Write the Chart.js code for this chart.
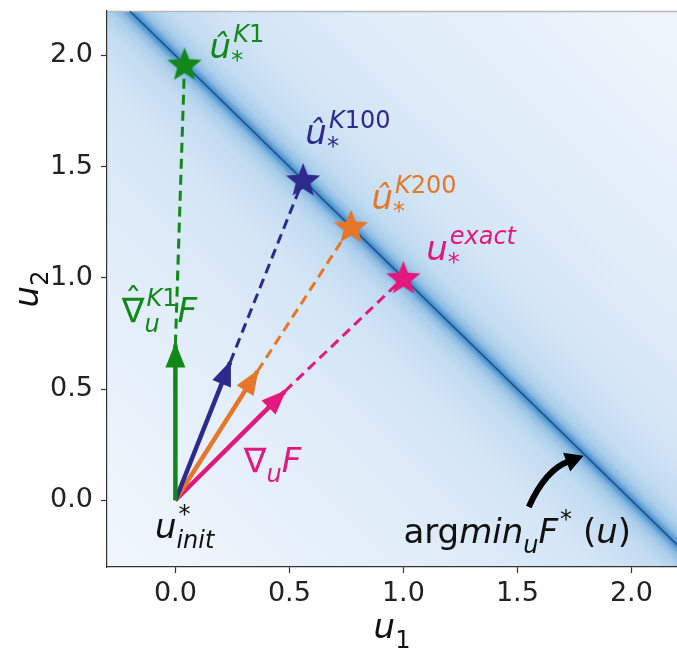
<!DOCTYPE html>
<html>
<head>
<meta charset="utf-8">
<script src="https://cdn.jsdelivr.net/npm/chart.js@4.4.1/dist/chart.umd.min.js"></script>
<style>
  html, body { margin: 0; padding: 0; background: #fff; }
</style>
</head>
<body>
<canvas id="chart" width="677" height="648"></canvas>
<script>
// estimated optima and the gradient arrows that start at u_init
var names = ['K1', 'K100', 'K200', 'exact'];
var starX = [0.04, 0.56, 0.77, 1.0];
var starY = [1.96, 1.44, 1.23, 1.0];
var tipX = [0.0, 0.24, 0.36, 0.48];
var tipY = [0.70, 0.62, 0.58, 0.49];
var colors = ['#12881a', '#2d2a8c', '#e5762a', '#e3187c'];
var initX = [0.0];
var initY = [0.0];

// argmin line u1 + u2 = 2
var minLineX = [-0.2, 2.2];
var minLineY = [2.2, -0.2];

var tickValues = [0, 0.5, 1.0, 1.5, 2.0];
var tickLabels = ['0.0', '0.5', '1.0', '1.5', '2.0'];

var FONT = '"DejaVu Sans"';
var MAIN = 34, SCRIPT = 24;

function starImage(color) {
  var c = document.createElement('canvas');
  c.width = 38; c.height = 38;
  var g = c.getContext('2d');
  g.fillStyle = color;
  g.beginPath();
  for (var i = 0; i < 10; i++) {
    var r = i % 2 === 0 ? 18 : 7.8;
    var a = -Math.PI / 2 + i * Math.PI / 5;
    g.lineTo(19 + r * Math.cos(a), 20 + r * Math.sin(a));
  }
  g.closePath();
  g.fill();
  return c;
}

var datasets = [{
  label: 'argmin',
  data: minLineX.map(function (x, i) { return { x: x, y: minLineY[i] }; }),
  showLine: true, borderColor: '#1b4d88', borderWidth: 1.3, pointRadius: 0, order: 5
}];
names.forEach(function (n, i) {
  datasets.push({
    label: 'dash ' + n,
    data: [{ x: tipX[i], y: tipY[i] }, { x: starX[i], y: starY[i] }],
    showLine: true, borderColor: colors[i], borderWidth: 3, borderDash: [10, 6],
    pointRadius: 0, order: 3
  });
  datasets.push({
    label: 'grad ' + n,
    data: [{ x: initX[0], y: initY[0] }, { x: tipX[i], y: tipY[i] }],
    showLine: true, borderColor: colors[i], borderWidth: 4.5,
    pointRadius: 0, order: 2, arrow: true
  });
  datasets.push({
    label: 'star ' + n,
    data: [{ x: starX[i], y: starY[i] }],
    pointStyle: starImage(colors[i]), pointRadius: 18, order: 0
  });
});

// text labels, anchored in data units
var labels = [
  { x: 0.15, y: 1.99, color: colors[0], parts: [{ t: 'û', it: 1, sup: [['K', 1], ['1', 0]], sub: [['*', 0]] }] },
  { x: 0.57, y: 1.60, color: colors[1], parts: [{ t: 'û', it: 1, sup: [['K', 1], ['100', 0]], sub: [['*', 0]] }] },
  { x: 0.86, y: 1.31, color: colors[2], parts: [{ t: 'û', it: 1, sup: [['K', 1], ['200', 0]], sub: [['*', 0]] }] },
  { x: 1.10, y: 1.08, color: colors[3], parts: [{ t: 'u', it: 1, sup: [['exact', 1]], sub: [['*', 0]] }] },
  { x: -0.235, y: 0.80, color: colors[0], parts: [{ t: '∇', it: 0, hat: 1, sup: [['K', 1], ['1', 0]], sub: [['u', 1]] }, { t: 'F', it: 1 }] },
  { x: 0.30, y: 0.125, color: colors[3], parts: [{ t: '∇', it: 0, sub: [['u', 1]] }, { t: 'F', it: 1 }] },
  { x: -0.09, y: -0.17, color: '#111', parts: [{ t: 'u', it: 1, sup: [['*', 0]], sub: [['init', 1]] }] },
  { x: 1.0, y: -0.19, color: '#111', parts: [{ t: 'arg', it: 0 }, { t: 'min', it: 1, sub: [['u', 1]] }, { t: 'F', it: 1, sup: [['*', 0]] }, { t: ' (', it: 0 }, { t: 'u', it: 1 }, { t: ')', it: 0 }] }
];
var pointerFrom = [1.55, -0.03];
var pointerTo = [1.79, 0.20];

function setFont(ctx, it, size) {
  ctx.font = (it ? 'italic ' : '') + size + 'px ' + FONT;
}

function drawRuns(ctx, runs, x, y, size, dry) {
  runs.forEach(function (r) {
    setFont(ctx, r[1], size);
    if (!dry) ctx.fillText(r[0], x, y);
    x += ctx.measureText(r[0]).width;
  });
  return x;
}

function drawMath(ctx, x, y, color, parts, dry) {
  ctx.fillStyle = color;
  ctx.textBaseline = 'alphabetic';
  ctx.textAlign = 'left';
  parts.forEach(function (p) {
    setFont(ctx, p.it, MAIN);
    var w = ctx.measureText(p.t).width;
    if (!dry) {
      ctx.fillText(p.t, x, y);
      if (p.hat) {
        ctx.textAlign = 'center';
        ctx.fillText('ˆ', x + w / 2, y - 10);
        ctx.textAlign = 'left';
      }
    }
    x += w;
    var end = x;
    if (p.sup) end = Math.max(end, drawRuns(ctx, p.sup, x + 2, y - 16, SCRIPT, dry));
    if (p.sub) end = Math.max(end, drawRuns(ctx, p.sub, x, y + 10, SCRIPT, dry));
    x = end;
  });
  return x;
}

var heatPlugin = {
  id: 'heat',
  beforeDraw: function (chart) {
    var a = chart.chartArea, xs = chart.scales.x, ys = chart.scales.y, ctx = chart.ctx;
    var ax = xs.getPixelForValue(minLineX[0]), ay = ys.getPixelForValue(minLineY[0]);
    var bx = xs.getPixelForValue(minLineX[1]), by = ys.getPixelForValue(minLineY[1]);
    var dx = bx - ax, dy = by - ay, len = Math.hypot(dx, dy);
    var nx = -dy / len, ny = dx / len;
    var cx = (ax + bx) / 2, cy = (ay + by) / 2;
    var R = 500;
    var grad = ctx.createLinearGradient(cx - nx * R, cy - ny * R, cx + nx * R, cy + ny * R);
    var stops = [[0, '#3f86c6'], [3, '#5f9fd4'], [7, '#8dbbe3'], [14, '#accfeb'],
      [28, '#c3dcf1'], [70, '#d4e5f5'], [180, '#e1edf9'], [360, '#eef5fc'], [500, '#f5f9fd']];
    stops.forEach(function (s) {
      grad.addColorStop(0.5 - s[0] / (2 * R), s[1]);
      grad.addColorStop(0.5 + s[0] / (2 * R), s[1]);
    });
    ctx.save();
    ctx.fillStyle = grad;
    ctx.fillRect(a.left, a.top, a.right - a.left, a.bottom - a.top);
    ctx.strokeStyle = '#b8b8b8';
    ctx.lineWidth = 1.5;
    ctx.beginPath();
    ctx.moveTo(a.left, a.top + 0.5);
    ctx.lineTo(a.right, a.top + 0.5);
    ctx.stroke();
    ctx.restore();
  }
};

var overlayPlugin = {
  id: 'overlay',
  afterDatasetsDraw: function (chart) {
    var ctx = chart.ctx, xs = chart.scales.x, ys = chart.scales.y, a = chart.chartArea;
    ctx.save();
    // arrow heads at the end of each gradient arrow
    chart.data.datasets.forEach(function (ds, i) {
      if (!ds.arrow) return;
      var pts = chart.getDatasetMeta(i).data;
      var p0 = pts[0], p1 = pts[1];
      var dx = p1.x - p0.x, dy = p1.y - p0.y, l = Math.hypot(dx, dy);
      var ux = dx / l, uy = dy / l;
      var tx = p1.x + ux * 2, ty = p1.y + uy * 2;
      var hl = 25, hw = 10;
      ctx.fillStyle = ds.borderColor;
      ctx.beginPath();
      ctx.moveTo(tx, ty);
      ctx.lineTo(tx - ux * hl - uy * hw, ty - uy * hl + ux * hw);
      ctx.lineTo(tx - ux * hl + uy * hw, ty - uy * hl - ux * hw);
      ctx.closePath();
      ctx.fill();
    });

    // curved pointer to the argmin line
    var sx = xs.getPixelForValue(pointerFrom[0]), sy = ys.getPixelForValue(pointerFrom[1]);
    var ex = xs.getPixelForValue(pointerTo[0]), ey = ys.getPixelForValue(pointerTo[1]);
    var qx = sx + (ex - sx) * 0.3, qy = sy + (ey - sy) * 0.72;
    var vx = ex - qx, vy = ey - qy, vl = Math.hypot(vx, vy);
    vx /= vl; vy /= vl;
    var hl = 18, hw = 10;
    ctx.strokeStyle = '#000';
    ctx.lineWidth = 6;
    ctx.beginPath();
    ctx.moveTo(sx, sy);
    ctx.quadraticCurveTo(qx, qy, ex - vx * (hl - 2), ey - vy * (hl - 2));
    ctx.stroke();
    ctx.fillStyle = '#000';
    ctx.beginPath();
    ctx.moveTo(ex, ey);
    ctx.lineTo(ex - vx * hl - vy * hw, ey - vy * hl + vx * hw);
    ctx.lineTo(ex - vx * hl + vy * hw, ey - vy * hl - vx * hw);
    ctx.closePath();
    ctx.fill();

    labels.forEach(function (lb) {
      drawMath(ctx, xs.getPixelForValue(lb.x), ys.getPixelForValue(lb.y), lb.color, lb.parts);
    });

    // axis titles
    var t1 = [{ t: 'u', it: 1, sub: [['1', 0]] }];
    var w1 = drawMath(ctx, 0, 0, '#111', t1, true);
    drawMath(ctx, (a.left + a.right) / 2 - w1 / 2, 638, '#111', t1);
    var t2 = [{ t: 'u', it: 1, sub: [['2', 0]] }];
    var w2 = drawMath(ctx, 0, 0, '#111', t2, true);
    ctx.translate(38, (a.top + a.bottom) / 2 + w2 / 2);
    ctx.rotate(-Math.PI / 2);
    drawMath(ctx, 0, 0, '#111', t2);
    ctx.restore();
  }
};

var axisTicks = function (scale) {
  scale.ticks = tickValues.map(function (v) { return { value: v }; });
};

new Chart(document.getElementById('chart').getContext('2d'), {
  type: 'scatter',
  data: { datasets: datasets },
  options: {
    responsive: false,
    animation: false,
    devicePixelRatio: 1,
    layout: { autoPadding: false, padding: { top: 11, right: 0, left: 0, bottom: 0 } },
    scales: {
      x: {
        type: 'linear', min: -0.3, max: 2.2,
        afterBuildTicks: axisTicks,
        afterFit: function (s) {
          s.height = 81;
          s.paddingLeft = 0; s.paddingRight = 0;
        },
        ticks: {
          callback: function (v, i) { return tickLabels[i]; },
          font: { family: 'DejaVu Sans', size: 27 }, color: '#222',
          padding: 5, maxRotation: 0, autoSkip: false
        },
        grid: { drawOnChartArea: false, drawTicks: true, tickLength: 6, color: '#333', tickWidth: 1.2 },
        border: { color: '#333', width: 1.2 }
      },
      y: {
        type: 'linear', min: -0.3, max: 2.2,
        afterBuildTicks: axisTicks,
        afterFit: function (s) {
          s.width = 107;
          s.paddingTop = 0; s.paddingBottom = 0;
        },
        ticks: {
          callback: function (v, i) { return tickLabels[i]; },
          font: { family: 'DejaVu Sans', size: 27 }, color: '#222',
          padding: 8, autoSkip: false
        },
        grid: { drawOnChartArea: false, drawTicks: true, tickLength: 6, color: '#333', tickWidth: 1.2 },
        border: { color: '#333', width: 1.2 }
      }
    },
    plugins: {
      legend: { display: false },
      tooltip: { enabled: false }
    }
  },
  plugins: [heatPlugin, overlayPlugin]
});
</script>
</body>
</html>
